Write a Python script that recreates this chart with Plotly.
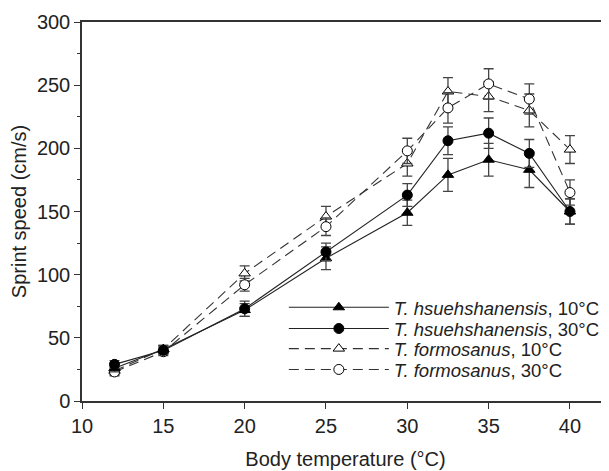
import plotly.graph_objects as go

temps = [12, 15, 20, 25, 30, 32.5, 35, 37.5, 40]

th10 = [26, 41, 72, 113, 149, 179, 191, 183, 150]
th10_err = [3, 3, 5, 9, 10, 13, 13, 14, 10]
th30 = [29, 40, 73, 118, 163, 206, 212, 196, 150]
th30_err = [3, 3, 6, 7, 9, 11, 12, 11, 10]
tf10 = [24, 41, 101, 146, 188, 245, 241, 230, 199]
tf10_err = [3, 3, 6, 8, 10, 11, 12, 13, 11]
tf30 = [23, 39, 92, 138, 198, 232, 251, 239, 165]
tf30_err = [3, 3, 5, 7, 10, 12, 12, 12, 10]

names = ["<i>T. hsuehshanensis</i>, 10°C", "<i>T. hsuehshanensis</i>, 30°C",
         "<i>T. formosanus</i>, 10°C", "<i>T. formosanus</i>, 30°C"]

FONT = "Liberation Sans, Arial, sans-serif"

# (values, errors, name, symbol, fill, dash, legend id)
series = [
    (tf10, tf10_err, names[2], "triangle-up", "white", "dash", "legend3"),
    (tf30, tf30_err, names[3], "circle", "white", "dash", "legend4"),
    (th10, th10_err, names[0], "triangle-up", "black", "solid", "legend"),
    (th30, th30_err, names[1], "circle", "black", "solid", "legend2"),
]

fig = go.Figure()
for ys, es, nm, sym, fill, dash, lg in series:
    fig.add_trace(go.Scatter(
        x=temps, y=ys, name=nm, mode="lines+markers", legend=lg,
        line=dict(color="#222" if dash == "solid" else "#333", width=1.1,
                  dash="solid" if dash == "solid" else "10px,6px"),
        marker=dict(symbol=sym, size=10, color=fill,
                    line=dict(color="black", width=1)),
        error_y=dict(type="data", array=es, visible=True, color="#444",
                     thickness=1.3, width=5),
    ))

legend_style = dict(x=0.383, xanchor="left", yanchor="middle",
                    bgcolor="rgba(0,0,0,0)", itemwidth=100,
                    font=dict(family=FONT, size=18.5, color="#222"))

fig.update_layout(
    width=630, height=471,
    margin=dict(l=74, r=29, t=14, b=78),
    paper_bgcolor="white", plot_bgcolor="white",
    font=dict(family=FONT, size=19, color="#222"),
    showlegend=True,
    legend=dict(y=0.246, **legend_style),
    legend2=dict(y=0.190, **legend_style),
    legend3=dict(y=0.137, **legend_style),
    legend4=dict(y=0.082, **legend_style),
    xaxis=dict(range=[10, 42.4], tickvals=[10, 15, 20, 25, 30, 35, 40],
               showgrid=False, zeroline=False, showline=True, automargin=False,
               linecolor="#333", linewidth=1.5, mirror=True,
               ticks="outside", ticklen=6, tickwidth=1.3, tickcolor="#333",
               tickfont=dict(size=20),
               title=dict(text="Body temperature (°C)", font=dict(size=20), standoff=16)),
    yaxis=dict(range=[0, 300], tickvals=[0, 50, 100, 150, 200, 250, 300],
               showgrid=False, zeroline=False, showline=True, automargin=False,
               linecolor="#333", linewidth=1.5,
               ticks="outside", ticklen=6, tickwidth=1.3, tickcolor="#333",
               tickfont=dict(size=20),
               minor=dict(dtick=25, ticks="outside", ticklen=3, tickcolor="#333", tickwidth=1),
               title=dict(text="Sprint speed (cm/s)", font=dict(size=20), standoff=15)),
)

fig.write_html("out.html")
